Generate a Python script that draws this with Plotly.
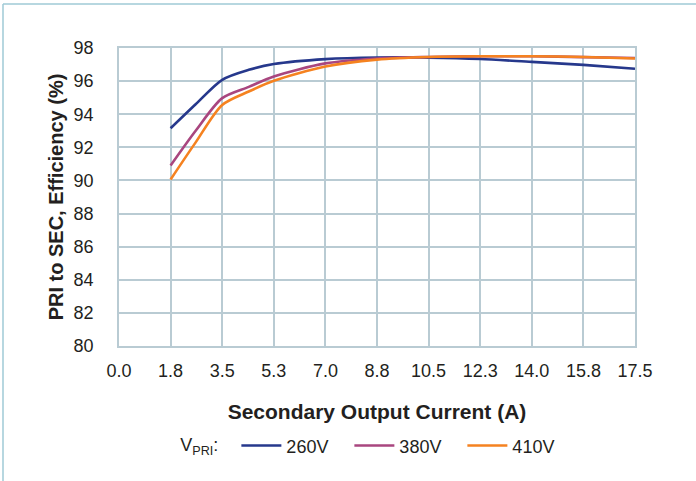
import plotly.graph_objects as go

# X positions (A) and tick labels
x_260 = [1.75, 2.6, 3.5, 4.4, 5.25, 7.0, 8.75, 10.5, 12.25, 14.0, 15.75, 17.5]
y_260 = [93.15, 94.6, 96.08, 96.68, 97.03, 97.33, 97.43, 97.42, 97.34, 97.16, 96.98, 96.75]

x_380 = [1.75, 2.6, 3.5, 4.4, 5.25, 7.0, 8.75, 10.5, 12.25, 14.0, 15.75, 17.5]
y_380 = [90.9, 93.0, 94.97, 95.65, 96.28, 97.07, 97.37, 97.46, 97.5, 97.5, 97.45, 97.4]

x_410 = [1.75, 2.6, 3.5, 4.4, 5.25, 7.0, 8.75, 10.5, 12.25, 14.0, 15.75, 17.5]
y_410 = [90.06, 92.3, 94.56, 95.37, 96.02, 96.88, 97.3, 97.46, 97.5, 97.5, 97.46, 97.37]

tick_vals = [0.0, 1.75, 3.5, 5.25, 7.0, 8.75, 10.5, 12.25, 14.0, 15.75, 17.5]
tick_text = ["0.0", "1.8", "3.5", "5.3", "7.0", "8.8", "10.5", "12.3", "14.0", "15.8", "17.5"]

series_names = ["260V", "380V", "410V"]
series_colors = ["#26388c", "#a9467f", "#f58220"]

FONT = "Liberation Sans, Arial, sans-serif"
GRID = "#b9cbd3"

fig = go.Figure()
for name, xs, ys, col in zip(series_names, [x_260, x_380, x_410],
                             [y_260, y_380, y_410], series_colors):
    fig.add_trace(go.Scatter(x=xs, y=ys, mode="lines", name=name,
                             line=dict(color=col, width=2.6, shape="spline", smoothing=0.8)))

fig.update_layout(
    width=696, height=481,
    margin=dict(l=119, r=61, t=48, b=135),
    paper_bgcolor="white", plot_bgcolor="white",
    font=dict(family=FONT, size=18, color="#231f20"),
    showlegend=True,
    legend=dict(orientation="h", x=0.115, xanchor="left", y=-0.335, yanchor="middle",
                title=dict(text="V<sub>PRI</sub>:  ", font=dict(size=18), side="left"),
                font=dict(size=18), itemwidth=40, entrywidth=58, entrywidthmode="pixels"),
    xaxis=dict(range=[0, 17.5], tickvals=tick_vals, ticktext=tick_text,
               showgrid=True, gridcolor=GRID, gridwidth=1.5,
               showline=True, linecolor=GRID, linewidth=1.5, mirror=True,
               ticks="", ticklabelstandoff=8, zeroline=False,
               tickfont=dict(size=18),
               title=dict(text="<b>Secondary Output Current (A)</b>",
                          font=dict(size=21), standoff=24)),
    yaxis=dict(range=[80, 98], dtick=2,
               showgrid=True, gridcolor=GRID, gridwidth=1.5,
               showline=True, linecolor=GRID, linewidth=1.5, mirror=True,
               ticks="", ticklabelstandoff=20, zeroline=False,
               tickfont=dict(size=18),
               title=dict(text="<b>PRI to SEC, Efficiency (%)</b>",
                          font=dict(size=20), standoff=5)),
)

# page frame (top and left border)
fig.add_shape(type="line", xref="paper", yref="paper",
              x0=-0.2248, x1=1.2, y0=1.1477, y1=1.1477,
              line=dict(color="#9fcad6", width=1.5))
fig.add_shape(type="line", xref="paper", yref="paper",
              x0=-0.2248, x1=-0.2248, y0=1.1477, y1=-0.5,
              line=dict(color="#9fcad6", width=1.5))

fig.write_html("out.html",
               config={"displayModeBar": False},
               post_script="document.body.style.margin='0';document.body.style.overflow='hidden';")
